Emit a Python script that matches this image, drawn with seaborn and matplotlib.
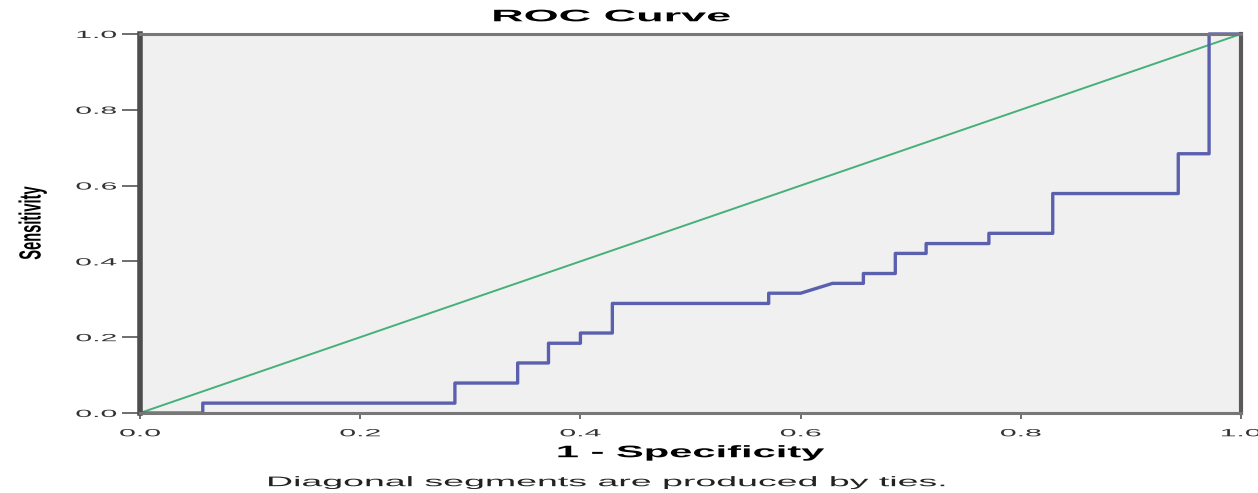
import matplotlib
matplotlib.use('Agg')
import matplotlib.pyplot as plt
import seaborn as sns
from matplotlib.patheffects import AbstractPathEffect
from matplotlib.transforms import Affine2D

# ROC curve points (1 - specificity, sensitivity)
fpr = [0, 0.057, 0.057, 0.286, 0.286, 0.343, 0.343, 0.371, 0.371, 0.4, 0.4,
       0.429, 0.429, 0.571, 0.571, 0.6, 0.629, 0.657, 0.657, 0.686, 0.686,
       0.714, 0.714, 0.771, 0.771, 0.829, 0.829, 0.943, 0.943, 0.971, 0.971, 1.0]
tpr = [0, 0, 0.026, 0.026, 0.079, 0.079, 0.132, 0.132, 0.184, 0.184, 0.211,
       0.211, 0.289, 0.289, 0.316, 0.316, 0.342, 0.342, 0.368, 0.368, 0.421,
       0.421, 0.447, 0.447, 0.474, 0.474, 0.579, 0.579, 0.684, 0.684, 1.0, 1.0]

# reference diagonal
ref_x = [0, 1]
ref_y = [0, 1]

ticks = [0.0, 0.2, 0.4, 0.6, 0.8, 1.0]
tick_labels = ['0.0', '0.2', '0.4', '0.6', '0.8', '1.0']


class Stretch(AbstractPathEffect):
    # widen (or squeeze) text like the SPSS export does
    def __init__(self, sx=1.0, sy=1.0, anchor='center'):
        super().__init__()
        self.sx, self.sy, self.anchor = sx, sy, anchor

    def draw_path(self, renderer, gc, tpath, affine, rgbFace=None):
        ext = tpath.get_extents(affine)
        cx = ext.x1 if self.anchor == 'right' else (ext.x0 + ext.x1) / 2
        cy = (ext.y0 + ext.y1) / 2
        t = affine + Affine2D().translate(-cx, -cy).scale(self.sx, self.sy).translate(cx, cy)
        renderer.draw_path(gc, tpath, t, rgbFace)


sns.set_theme(style='ticks')
plt.rcParams['font.family'] = ['Liberation Sans', 'DejaVu Sans']

fig = plt.figure(figsize=(12.58, 4.93), dpi=100, facecolor='white')
ax = fig.add_axes([0.1113, 0.1623, 0.8752, 0.7688])
ax.set_facecolor('#f0f0f0')

sns.lineplot(x=ref_x, y=ref_y, ax=ax, color='#45b07a', linewidth=1.4,
             estimator=None, sort=False, clip_on=False)
sns.lineplot(x=fpr, y=tpr, ax=ax, color='#5a60ae', linewidth=2.4,
             estimator=None, sort=False, clip_on=False)

ax.set_xlim(0, 1)
ax.set_ylim(0, 1)
ax.set_xticks(ticks)
ax.set_xticklabels(tick_labels)
ax.set_yticks(ticks)
ax.set_yticklabels(tick_labels)

ax.tick_params(axis='y', direction='out', length=13, width=1.2, color='#555555',
               pad=4, labelsize=7.5, labelcolor='#333333')
ax.tick_params(axis='x', direction='out', length=4, width=1.2, color='#555555',
               pad=7, labelsize=7.5, labelcolor='#333333')

for side, lw, col in [('left', 4, '#4d4d4d'), ('right', 3, '#5a5a5a'),
                      ('top', 2.2, '#777777'), ('bottom', 2.2, '#777777')]:
    ax.spines[side].set_visible(True)
    ax.spines[side].set_linewidth(lw)
    ax.spines[side].set_color(col)

for lab in ax.get_xticklabels():
    lab.set_path_effects([Stretch(2.9, 1.0)])
for lab in ax.get_yticklabels():
    lab.set_path_effects([Stretch(2.9, 1.0, anchor='right')])

ax.set_xlabel('1 - Specificity', fontsize=12, fontweight='bold', color='black')
ax.xaxis.set_label_coords(0.5, -0.085)
ax.xaxis.label.set_path_effects([Stretch(2.5, 1.0)])

ax.set_ylabel('Sensitivity', fontsize=22, fontweight='bold', color='black')
ax.yaxis.set_label_coords(-0.084, 0.5)
ax.yaxis.label.set_path_effects([Stretch(1.0, 0.48)])

fig.text(0.486, 0.966, 'ROC Curve', ha='center', va='center', fontsize=12,
         fontweight='bold', color='black', path_effects=[Stretch(2.7, 1.0)])
fig.text(0.4825, 0.022, 'Diagonal segments are produced by ties.', ha='center',
         va='center', fontsize=10, color='#222222', path_effects=[Stretch(2.7, 1.0)])

plt.savefig('out.png', dpi=100, facecolor='white')
